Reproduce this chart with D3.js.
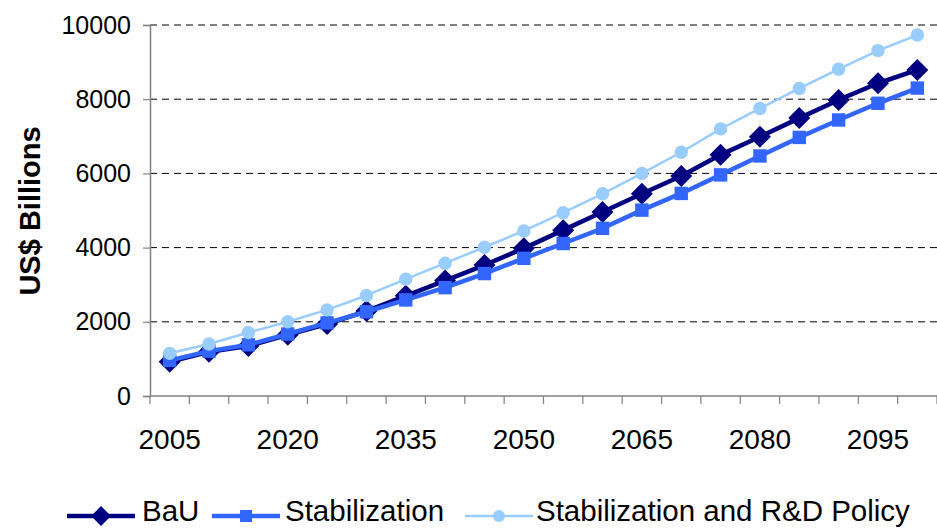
<!DOCTYPE html>
<html>
<head>
<meta charset="utf-8">
<script src="https://cdn.jsdelivr.net/npm/d3@7"></script>
<style>
  html, body { margin: 0; padding: 0; background: #fff; }
  svg { display: block; font-family: "Liberation Sans", Arial, sans-serif; }
</style>
</head>
<body>
<svg id="chart" width="937" height="528"></svg>
<script>
// Years on the category axis
const years = [2005, 2010, 2015, 2020, 2025, 2030, 2035, 2040, 2045, 2050,
               2055, 2060, 2065, 2070, 2075, 2080, 2085, 2090, 2095, 2100];

// Series values, US$ billions
const bau = [920, 1190, 1350, 1650, 1940, 2290, 2700, 3110, 3530, 3980,
             4470, 4960, 5450, 5930, 6500, 6990, 7490, 7980, 8430, 8790];
const stabilization = [960, 1210, 1380, 1670, 1970, 2270, 2590, 2920, 3300, 3710,
                       4110, 4520, 5010, 5460, 5960, 6470, 6970, 7440, 7890, 8300];
const stabilizationRD = [1150, 1400, 1710, 2000, 2320, 2710, 3150, 3580, 4010, 4450,
                         4940, 5450, 6000, 6570, 7200, 7750, 8290, 8810, 9310, 9730];

const yTicks = [0, 2000, 4000, 6000, 8000, 10000];
const xLabelYears = [2005, 2020, 2035, 2050, 2065, 2080, 2095];

const seriesNames = ["BaU", "Stabilization", "Stabilization and R&D Policy"];

const svg = d3.select("#chart");
const plot = { left: 150, right: 937, top: 25, bottom: 396 };

const x = d3.scaleBand().domain(years).range([plot.left, plot.right]).padding(0);
const y = d3.scaleLinear().domain([0, 10000]).range([plot.bottom, plot.top]);
const cx = d => x(d) + x.bandwidth() / 2;

// Dashed horizontal gridlines
svg.append("g")
  .selectAll("line")
  .data(yTicks.filter(v => v > 0))
  .join("line")
  .attr("x1", plot.left).attr("x2", plot.right)
  .attr("y1", d => y(d)).attr("y2", d => y(d))
  .attr("stroke", "#000").attr("stroke-width", 1)
  .attr("stroke-dasharray", "7,5");

// Value axis
const yAxis = svg.append("g")
  .attr("transform", `translate(${plot.left},0)`)
  .call(d3.axisLeft(y).tickValues(yTicks).tickSize(7).tickPadding(12).tickFormat(d3.format("d")));
yAxis.select(".domain").attr("stroke", "#808080").attr("stroke-width", 1.5);
yAxis.selectAll(".tick line").attr("stroke", "#808080").attr("stroke-width", 1.2);
yAxis.selectAll(".tick text")
  .attr("font-size", 25).attr("fill", "#000")
  .attr("font-family", "'Liberation Sans', Arial, sans-serif");

// Category axis: baseline, boundary ticks, labels every third year
const xg = svg.append("g");
xg.append("line")
  .attr("x1", plot.left).attr("x2", plot.right)
  .attr("y1", y(0)).attr("y2", y(0))
  .attr("stroke", "#808080").attr("stroke-width", 1.5);
const boundaries = years.map(d => x(d)).concat([x(years[years.length - 1]) + x.bandwidth()]);
xg.selectAll("line.tk")
  .data(boundaries)
  .join("line").attr("class", "tk")
  .attr("x1", d => d).attr("x2", d => d)
  .attr("y1", y(0)).attr("y2", y(0) + 8)
  .attr("stroke", "#808080").attr("stroke-width", 1.2);
xg.selectAll("text")
  .data(xLabelYears)
  .join("text")
  .attr("x", d => cx(d))
  .attr("y", 449)
  .attr("text-anchor", "middle")
  .attr("font-size", 28)
  .attr("fill", "#000")
  .text(d => d);

// Axis title
svg.append("text")
  .attr("transform", "translate(40,211) rotate(-90)")
  .attr("text-anchor", "middle")
  .attr("font-size", 29)
  .attr("font-weight", "bold")
  .attr("fill", "#000")
  .text("US$ Billions");

// Series definitions
const series = [
  { name: seriesNames[0], values: bau, color: "#000080", width: 4.5, marker: "diamond" },
  { name: seriesNames[1], values: stabilization, color: "#3366FF", width: 4.5, marker: "square" },
  { name: seriesNames[2], values: stabilizationRD, color: "#99CCFF", width: 2.5, marker: "circle" }
];

function drawMarker(g, type, color, px, py, scale) {
  const s = scale || 1;
  if (type === "diamond") {
    const h = 11 * s;
    g.append("path")
      .attr("d", `M${px},${py - h}L${px + h},${py}L${px},${py + h}L${px - h},${py}Z`)
      .attr("fill", color);
  } else if (type === "square") {
    const h = 6.7 * s;
    g.append("rect")
      .attr("x", px - h).attr("y", py - h)
      .attr("width", 2 * h).attr("height", 2 * h)
      .attr("fill", color);
  } else {
    g.append("circle")
      .attr("cx", px).attr("cy", py).attr("r", 6.7 * s)
      .attr("fill", color);
  }
}

const line = d3.line().x((d, i) => cx(years[i])).y(d => y(d));

series.forEach(s => {
  const g = svg.append("g");
  g.append("path")
    .datum(s.values)
    .attr("d", line)
    .attr("fill", "none")
    .attr("stroke", s.color)
    .attr("stroke-width", s.width)
    .attr("stroke-linejoin", "round");
  s.values.forEach((v, i) => drawMarker(g, s.marker, s.color, cx(years[i]), y(v)));
});

// Legend
const legendItems = [
  { lineX: 67, textX: 142 },
  { lineX: 212, textX: 285 },
  { lineX: 465, textX: 536 }
];
const lg = svg.append("g");
series.forEach((s, i) => {
  const it = legendItems[i];
  const ly = 516;
  lg.append("line")
    .attr("x1", it.lineX).attr("x2", it.lineX + 68)
    .attr("y1", ly).attr("y2", ly)
    .attr("stroke", s.color).attr("stroke-width", s.width);
  drawMarker(lg, s.marker, s.color, it.lineX + 34, ly, 0.9);
  lg.append("text")
    .attr("x", it.textX).attr("y", 521)
    .attr("font-size", 29.5)
    .attr("fill", "#000")
    .text(s.name);
});
</script>
</body>
</html>
